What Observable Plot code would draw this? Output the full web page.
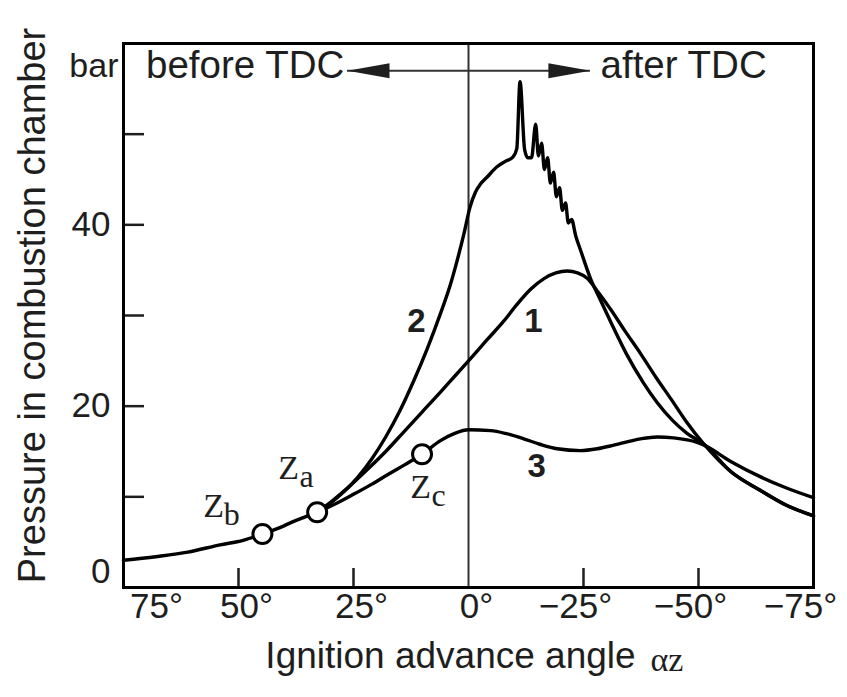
<!DOCTYPE html>
<html>
<head>
<meta charset="utf-8">
<script src="https://cdn.jsdelivr.net/npm/d3@7"></script>
<script src="https://cdn.jsdelivr.net/npm/@observablehq/plot@0.6"></script>
<style>
  html, body { margin: 0; padding: 0; background: #fff; }
  #chart svg { display: block; }
</style>
</head>
<body>
<div id="chart"></div>
<script>
// ---- Data ----
const xTicks = [75, 50, 25, 0, -25, -50, -75];
const xInnerTicks = [50, 25, -25, -50];
const yInnerTicks = [10, 20, 30, 40, 50];
const yTickLabels = [0, 20, 40];

// common part of the pressure curve (before ignition points)
const baseAngle = [75, 68, 61, 54, 49, 44.8, 41, 38, 35.5, 32.9];
const basePressure = [3.0, 3.4, 3.9, 4.7, 5.2, 5.9, 6.6, 7.3, 7.8, 8.3];

// curve 1
const curve1Angle = [32.9, 30, 26, 22, 18, 14, 10, 6, 3, 0, -4, -7.7, -10.5, -13.5, -16.5, -19, -21.5, -23.7, -25.8, -28, -31, -34, -37.4, -41, -44, -47.2, -51.2, -57, -63.5, -69, -75];
const curve1Pressure = [8.3, 9.4, 11.1, 13.0, 15.0, 17.2, 19.4, 21.6, 23.3, 25.0, 27.3, 29.4, 31.2, 32.9, 34.1, 34.7, 34.9, 34.7, 34.1, 32.7, 30.6, 28.3, 25.8, 23.0, 20.8, 18.4, 15.8, 12.8, 10.7, 9.1, 7.9];

// curve 2 (knocking)
const curve2Angle = [32.9, 30, 27, 24, 21, 18, 15, 11.9, 9, 6.1, 4, 2.5, 1, -0.3, -1.5, -2.6, -4.1, -6.2, -8, -9.7, -10.5, -11.2, -12.2, -12.9, -13.7, -14.6, -15.2, -15.9, -16.5, -17.2, -17.8, -18.5, -19.1, -19.8, -20.4, -21.1, -21.7, -22.4, -23.3, -24.5, -26.5, -28.5, -31, -34.3, -38, -41, -44.4, -47.5, -51.2, -57, -63.5, -69, -75];
const curve2Pressure = [8.3, 9.3, 10.6, 12.2, 14.2, 16.6, 19.4, 22.8, 26.3, 30.2, 33.3, 36.0, 39.0, 41.9, 43.6, 44.5, 45.3, 46.4, 47.0, 47.5, 48.4, 55.8, 48.3, 47.4, 47.4, 51.1, 47.6, 49.0, 46.1, 47.4, 44.6, 45.8, 43.1, 44.1, 41.6, 42.4, 40.2, 40.6, 38.8, 37.0, 34.1, 31.9, 29.2, 25.8, 22.6, 20.4, 18.4, 17.0, 15.8, 12.8, 10.7, 9.1, 7.9];

// curve 3
const curve3Angle = [32.9, 29, 24.9, 21, 17.7, 14, 10.1, 6.1, 3, 0, -4.8, -8, -12, -15.5, -19.3, -24.3, -28, -31.6, -37.4, -41, -44.6, -49.7, -51.2, -57, -63.5, -69, -75];
const curve3Pressure = [8.3, 9.2, 10.3, 11.4, 12.4, 13.5, 14.7, 16.2, 17.0, 17.4, 17.3, 17.0, 16.4, 15.8, 15.3, 15.1, 15.3, 15.7, 16.4, 16.6, 16.5, 16.0, 15.7, 13.9, 12.2, 11.0, 9.9];

// ignition points
const zName = ["b", "a", "c"];
const zAngle = [44.8, 32.9, 10.1];
const zPressure = [5.9, 8.3, 14.7];
const zLabelAngle = [55.4, 39.1, 10.4];
const zLabelPressure = [9.0, 13.2, 11.1];

// curve labels
const curveLabel = ["1", "2", "3"];
const curveLabelAngle = [-14.1, 11.3, -14.8];
const curveLabelPressure = [29.4, 29.4, 13.3];

// TDC annotation
const tdcText = ["before TDC", "after TDC"];
const tdcTextAngle = [27.0, -28.7];
const arrowTipAngle = [26.3, -26.5];
const arrowPressure = 57.0;

// ---- Build tables ----
const toRows = (a, p, s) => a.map((v, i) => ({angle: v, p: p[i], s}));
const base = toRows(baseAngle, basePressure, "base");
const lines = [
  ...toRows(curve1Angle, curve1Pressure, "1"),
  ...toRows(curve2Angle, curve2Pressure, "2"),
  ...toRows(curve3Angle, curve3Pressure, "3")
];
const zPoints = zName.map((n, i) => ({n, angle: zAngle[i], p: zPressure[i], la: zLabelAngle[i], lp: zLabelPressure[i]}));
const cLabels = curveLabel.map((t, i) => ({t, angle: curveLabelAngle[i], p: curveLabelPressure[i]}));

const fmtX = d => d === 0 ? "0°" : d > 0 ? `${d}°` : `\u2212${-d}°`;

const W = 847, H = 697, ML = 123, MR = 34, MT = 43, MB = 110;
const plotW = W - ML - MR, plotH = H - MT - MB;

const headRight = {draw(ctx) { ctx.moveTo(21, 0); ctx.lineTo(-21, -7.5); ctx.lineTo(-21, 7.5); ctx.closePath(); }};
const headLeft = {draw(ctx) { ctx.moveTo(-21, 0); ctx.lineTo(21, -7.5); ctx.lineTo(21, 7.5); ctx.closePath(); }};

const ink = "#1e1e1e";
const sans = "Liberation Sans, Arial, Helvetica, sans-serif";
const serif = "Liberation Serif, Times New Roman, serif";

const chart = Plot.plot({
  width: W, height: H,
  marginLeft: ML, marginRight: MR, marginTop: MT, marginBottom: MB,
  x: {domain: [75, -75], axis: null},
  y: {domain: [0, 60], axis: null},
  style: {fontFamily: sans, background: "#fff", color: ink},
  marks: [
    // zero (TDC) line
    Plot.ruleX([0], {stroke: "#333", strokeWidth: 2}),
    // inner ticks
    Plot.ruleX(xInnerTicks, {stroke: ink, strokeWidth: 2.5, insetTop: plotH - 19}),
    Plot.ruleY(yInnerTicks, {stroke: ink, strokeWidth: 2.5, insetRight: plotW - 21}),
    // arrow
    Plot.ruleY([arrowPressure], {x1: arrowTipAngle[0], x2: arrowTipAngle[1], stroke: "#333", strokeWidth: 2}),
    Plot.dot([arrowTipAngle[0]], {x: d => d, y: () => arrowPressure, symbol: headLeft, fill: ink, stroke: "none", dx: 21}),
    Plot.dot([arrowTipAngle[1]], {x: d => d, y: () => arrowPressure, symbol: headRight, fill: ink, stroke: "none", dx: -21}),
    Plot.text([tdcText[0]], {x: () => tdcTextAngle[0], y: () => arrowPressure + 0.6, text: d => d, textAnchor: "end", fontSize: 38.5, fill: ink}),
    Plot.text([tdcText[1]], {x: () => tdcTextAngle[1], y: () => arrowPressure + 0.6, text: d => d, textAnchor: "start", fontSize: 38.5, fill: ink}),
    // curves
    Plot.line(base, {x: "angle", y: "p", stroke: "black", strokeWidth: 3.5, curve: "monotone-x"}),
    Plot.line(lines, {x: "angle", y: "p", z: "s", stroke: "black", strokeWidth: 3.4, curve: "monotone-x", strokeLinejoin: "round"}),
    // ignition points
    Plot.dot(zPoints, {x: "angle", y: "p", r: 9.5, fill: "white", stroke: "black", strokeWidth: 3}),
    Plot.text(zPoints, {x: "la", y: "lp", text: () => "Z", fontFamily: serif, fontSize: 34, fill: ink}),
    Plot.text(zPoints, {x: "la", y: "lp", text: "n", fontFamily: serif, fontSize: 32, fill: ink, dx: 18, dy: 9}),
    // curve labels
    Plot.text(cLabels, {x: "angle", y: "p", text: "t", fontSize: 33, fontWeight: "bold", fill: ink}),
    // frame
    Plot.frame({stroke: "black", strokeWidth: 3}),
    // x tick labels
    Plot.text([xTicks[0]], {x: d => d, text: fmtX, frameAnchor: "bottom", dy: 30, dx: 33, fontSize: 35, fill: ink}),
    Plot.text(xTicks.slice(1, 4), {x: d => d, text: fmtX, frameAnchor: "bottom", dy: 30, dx: 8, fontSize: 35, fill: ink}),
    Plot.text(xTicks.slice(4, 6), {x: d => d, text: fmtX, frameAnchor: "bottom", dy: 30, dx: -8, fontSize: 35, fill: ink}),
    Plot.text([xTicks[6]], {x: d => d, text: fmtX, frameAnchor: "bottom", dy: 30, dx: -13, fontSize: 35, fill: ink}),
    // y tick labels
    Plot.text(yTickLabels.filter(d => d > 0), {y: d => d, text: d => String(d), frameAnchor: "left", textAnchor: "end", dx: -13, fontSize: 35, fill: ink}),
    Plot.text([yTickLabels[0]], {y: d => d, text: d => String(d), frameAnchor: "left", textAnchor: "end", dx: -13, dy: -16, fontSize: 35, fill: ink}),
    Plot.text(["bar"], {text: d => d, frameAnchor: "top-left", textAnchor: "end", dx: -5, dy: 9, fontSize: 34, fill: ink}),
    // axis titles
    Plot.text(["Pressure in combustion chamber"], {text: d => d, frameAnchor: "left", textAnchor: "middle", rotate: -90, dx: -91, dy: -10, fontSize: 38, fill: ink}),
    Plot.text(["Ignition advance angle"], {text: d => d, frameAnchor: "bottom", dx: -18, dy: 80, fontSize: 37, fill: ink}),
    Plot.text(["αz"], {text: d => d, frameAnchor: "bottom", textAnchor: "start", dx: 182, dy: 83, fontFamily: serif, fontSize: 34, fill: ink})
  ]
});
document.getElementById("chart").appendChild(chart);
</script>
</body>
</html>
